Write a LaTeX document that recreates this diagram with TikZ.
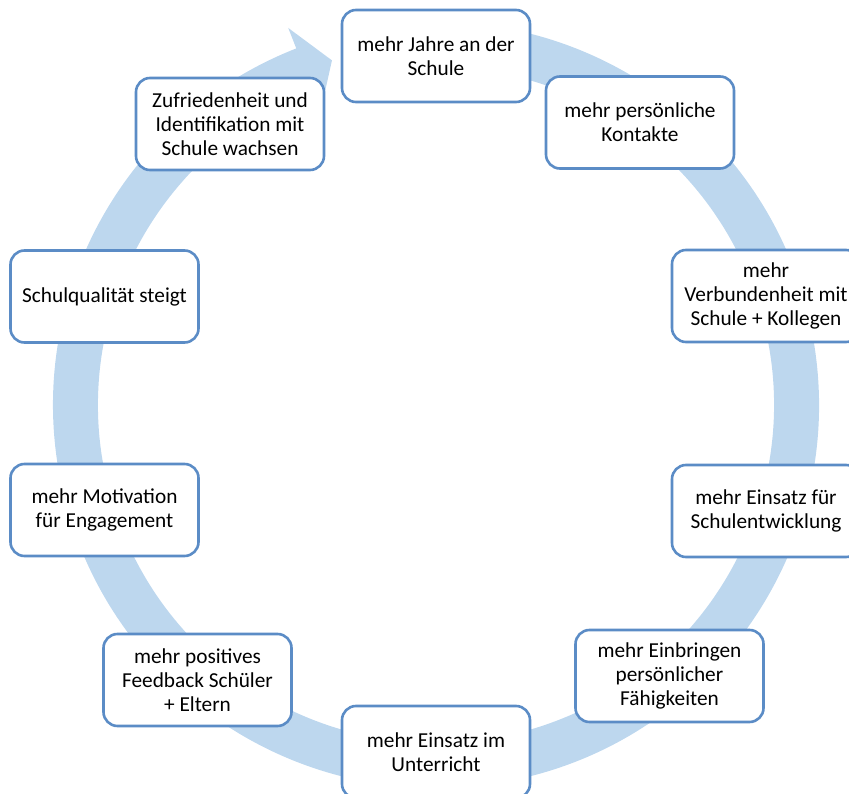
\documentclass[tikz,border=0pt]{standalone}
\usepackage{fontspec}
\setmainfont{Carlito}
\definecolor{ringblue}{HTML}{BDD7EE}
\definecolor{boxline}{HTML}{5B8CC6}
\begin{document}
\begin{tikzpicture}[x=1pt,y=-1pt,
  cyclebox/.style={draw=boxline, line width=2.6pt, fill=white,
    rounded corners=14pt, minimum width=188pt, minimum height=92pt,
    inner sep=0pt, align=center, text=black,
    font=\fontsize{21.3}{24}\selectfont}]
\useasboundingbox (0,0) rectangle (849,794);
\clip (0,0) rectangle (849,794);

% circular arrow running clockwise behind the boxes
\begin{scope}[shift={(436,405)}]
  \fill[ringblue] (100:383pt)
    arc[start angle=100, end angle=-248.6, radius=383pt]
    -- (-248.6:405pt) -- (-253.2:360pt) -- (-248.6:316pt)
    -- (-248.6:338pt)
    arc[start angle=-248.6, end angle=100, radius=338pt] -- cycle;
\end{scope}

\node[cyclebox] (jahre)      at (436,56)    {mehr Jahre an der\\Schule};
\node[cyclebox] (kontakte)   at (640,122.5) {mehr persönliche\\Kontakte};
\node[cyclebox] (verbunden)  at (766,296)   {mehr\\Verbundenheit mit\\Schule + Kollegen};
\node[cyclebox] (entwicklung)at (766,511)   {mehr Einsatz für\\Schulentwicklung};
\node[cyclebox] (faehig)     at (669.5,676) {mehr Einbringen\\persönlicher\\Fähigkeiten};
\node[cyclebox] (unterricht) at (436,752)   {mehr Einsatz im\\Unterricht};
\node[cyclebox] (feedback)   at (197.5,680) {mehr positives\\Feedback Schüler\\+ Eltern};
\node[cyclebox] (motivation) at (104.5,510) {mehr Motivation\\für Engagement};
\node[cyclebox] (qualitaet)  at (104.5,296.5) {Schulqualität steigt};
\node[cyclebox] (zufrieden)  at (230,124)   {Zufriedenheit und\\Identifikation mit\\Schule wachsen};
\end{tikzpicture}
\end{document}
